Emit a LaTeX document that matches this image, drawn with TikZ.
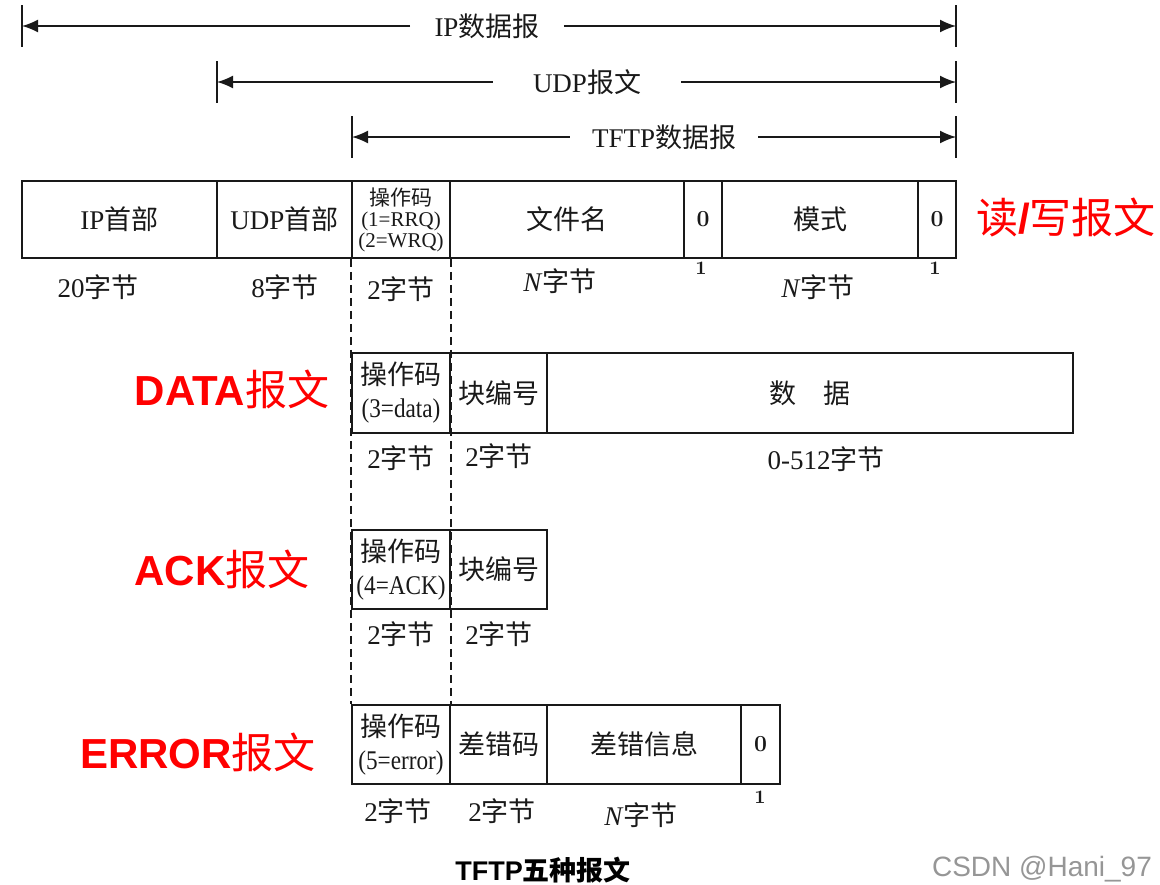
\documentclass[tikz,border=0pt]{standalone}
\usepackage{fontspec}
\setmainfont{Liberation Serif}
\newfontfamily\cjk{Noto Sans CJK SC}
\newfontfamily\arialf{Liberation Sans}
\newfontfamily\lmr{Latin Modern Roman}
\usetikzlibrary{arrows.meta}
\newcommand\zh[1]{{\cjk #1}}
\newcommand\cond[1]{\scalebox{0.86}[1]{#1}}
\definecolor{redlbl}{RGB}{255,0,0}
\definecolor{ink}{RGB}{25,25,25}
\definecolor{wmark}{RGB}{150,150,150}
\tikzset{
 fld/.style={draw=ink, text=ink, line width=0.8pt, inner sep=0pt, align=center, font=\fontsize{13.5}{16.5}\selectfont},
 smallop/.style={font=\fontsize{10.5}{10.5}\selectfont},
 lbl/.style={inner sep=0pt, text=ink, font=\fontsize{13.5}{16}\selectfont},
 zero/.style={font=\lmr\bfseries\fontsize{11.5}{12}\selectfont},
 one/.style={inner sep=0pt, text=ink, font=\lmr\bfseries\fontsize{9.5}{10}\selectfont},
 redl/.style={text=redlbl, inner sep=0pt, font=\fontsize{21}{24}\selectfont},
 span/.style={inner ysep=0pt, text=ink, font=\fontsize{13.5}{16}\selectfont},
 arr/.style={draw=ink, line width=0.8pt, -{Latex[length=8pt,width=6.5pt]}},
 tick/.style={draw=ink, line width=0.8pt},
 guide/.style={draw=ink, line width=0.9pt, dash pattern=on 4pt off 2.5pt},
}
\newcommand\fld[7][]{\node[fld,#1,minimum width={(#4-#3)*0.5pt},minimum height={(#6-#5)*0.5pt}] (#2) at ({(#3+#4)/2},{(#5+#6)/2}) {#7};}
\begin{document}
\begin{tikzpicture}[x=0.5pt,y=-0.5pt]
\useasboundingbox (0,0) rectangle (1160,884);
% ---------- span arrows ----------
\coordinate (ipL) at (22,26); \coordinate (ipR) at (956,26);
\node[span, inner xsep=12pt] (ipT) at (487,26) {IP\zh{数据报}};
\draw[arr] (ipT.west) -- (ipL); \draw[arr] (ipT.east) -- (ipR);
\draw[tick] (ipL) ++(0,-21) -- ++(0,42);
\draw[tick] (ipR) ++(0,-21) -- ++(0,42);

\coordinate (udpL) at (217,82); \coordinate (udpR) at (956,82);
\node[span, inner xsep=20pt] (udpT) at (587,82) {UDP\zh{报文}};
\draw[arr] (udpT.west) -- (udpL); \draw[arr] (udpT.east) -- (udpR);
\draw[tick] (udpL) ++(0,-21) -- ++(0,42);
\draw[tick] (udpR) ++(0,-21) -- ++(0,42);

\coordinate (tfL) at (352,137); \coordinate (tfR) at (956,137);
\node[span, inner xsep=11pt] (tfT) at (664,137) {TFTP\zh{数据报}};
\draw[arr] (tfT.west) -- (tfL); \draw[arr] (tfT.east) -- (tfR);
\draw[tick] (tfL) ++(0,-21) -- ++(0,42);
\draw[tick] (tfR) ++(0,-21) -- ++(0,42);

% ---------- guides ----------
\fld{f_ip}{22}{217}{181}{258}{IP\zh{首部}}
\fld{f_udp}{217}{352}{181}{258}{UDP\zh{首部}}
\fld[smallop]{f_op}{352}{450}{181}{258}{\zh{操作码}\\(1=RRQ)\\(2=WRQ)}
\fld{e_op}{352}{450}{705}{784}{\zh{操作码}\\\cond{(5=error)}}
\draw[guide] (f_op.south west) -- (e_op.north west);
\draw[guide] (f_op.south east) -- (e_op.north east);

% ---------- read / write ----------
\fld{f_fn}{450}{684}{181}{258}{\zh{文件名}}
\fld[zero]{f_z1}{684}{722}{181}{258}{0}
\fld{f_mode}{722}{918}{181}{258}{\zh{模式}}
\fld[zero]{f_z2}{918}{956}{181}{258}{0}
\node[lbl] (l_ip) at (98,287) {20\zh{字节}};
\node[lbl] (l_udp) at (285,287) {8\zh{字节}};
\node[lbl] (l_op) at (401,289) {2\zh{字节}};
\node[lbl] (l_fn) at (560,281) {\textit{N}\zh{字节}};
\node[one] (l_z1) at (701,268) {1};
\node[lbl] (l_mode) at (818,287) {\textit{N}\zh{字节}};
\node[one] (l_z2) at (935,268) {1};
\node[redl] (t_rw) at (1066,217) {\zh{读}{\arialf\bfseries /}\zh{写报文}};

% ---------- DATA ----------
\fld{d_op}{352}{450}{353}{433}{\zh{操作码}\\\cond{(3=data)}}
\fld{d_blk}{450}{547}{353}{433}{\zh{块编号}}
\fld{d_data}{547}{1073}{353}{433}{\zh{数　据}}
\node[lbl] (ld_op) at (401,458) {2\zh{字节}};
\node[lbl] (ld_blk) at (499,456) {2\zh{字节}};
\node[lbl] (ld_data) at (826,459) {0-512\zh{字节}};
\node[redl] (t_data) at (232,389) {{\arialf\bfseries DATA}\zh{报文}};

% ---------- ACK ----------
\fld{a_op}{352}{450}{530}{609}{\zh{操作码}\\\cond{(4=ACK)}}
\fld{a_blk}{450}{547}{530}{609}{\zh{块编号}}
\node[lbl] (la_op) at (401,634) {2\zh{字节}};
\node[lbl] (la_blk) at (499,634) {2\zh{字节}};
\node[redl] (t_ack) at (222,569) {{\arialf\bfseries ACK}\zh{报文}};

% ---------- ERROR ----------
\fld{e_code}{450}{547}{705}{784}{\zh{差错码}}
\fld{e_msg}{547}{741}{705}{784}{\zh{差错信息}}
\fld[zero]{e_z}{741}{780}{705}{784}{0}
\node[lbl] (le_op) at (398,811) {2\zh{字节}};
\node[lbl] (le_code) at (502,811) {2\zh{字节}};
\node[lbl] (le_msg) at (641,815) {\textit{N}\zh{字节}};
\node[one] (le_z) at (760,797) {1};
\node[redl] (t_err) at (198,752) {{\arialf\bfseries ERROR}\zh{报文}};

% ---------- caption & watermark ----------
\node[inner sep=0pt, text=black, font=\fontsize{13.5}{16}\selectfont] (cap) at (543,870) {{\arialf\bfseries TFTP}{\cjk\bfseries 五种报文}};
\node[inner sep=0pt, text=wmark, font=\arialf\fontsize{14}{16}\selectfont] (wm) at (1042,869) {CSDN @Hani\_97};
\end{tikzpicture}
\end{document}
